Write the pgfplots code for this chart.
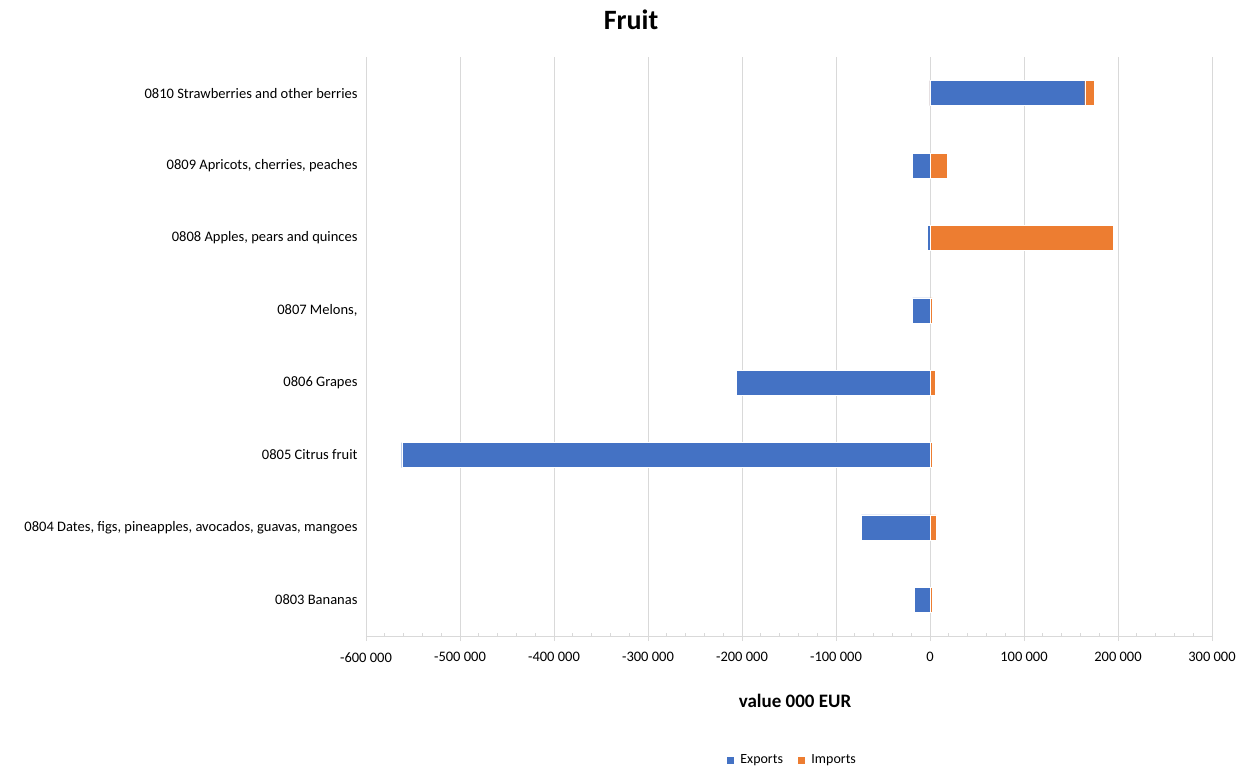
\documentclass[border=0pt]{standalone}
\usepackage{fontspec}
\setmainfont{Carlito}
\usepackage{pgfplots}
\pgfplotsset{compat=1.18}
\definecolor{expc}{HTML}{4472C4}
\definecolor{impc}{HTML}{ED7D31}
\definecolor{gridc}{HTML}{D9D9D9}
\begin{document}
\begin{tikzpicture}
\useasboundingbox (-366bp,-134bp) rectangle (881bp,636bp);
\begin{axis}[
  at={(0,0)}, anchor=south west,
  scale only axis, width=846bp, height=579bp,
  xmin=-600000, xmax=300000, ymin=-0.5, ymax=7.5,
  xbar, bar width=25bp, bar shift=0pt,
  scaled x ticks=false,
  xtick={-600000,-500000,...,300000},
  xticklabels={-600 000,-500 000,-400 000,-300 000,-200 000,-100 000,0,100 000,200 000,300 000},
  ytick={0,...,7},
  yticklabels={0803 Bananas,{0804 Dates, figs, pineapples, avocados, guavas, mangoes},0805 Citrus fruit,0806 Grapes,{0807 Melons,},0808 Apples{,} pears and quinces,{0809 Apricots, cherries, peaches},0810 Strawberries and other berries},
  xmajorgrids, major grid style={gridc, line width=0.8bp},
  axis x line*=bottom, axis y line*=left,
  y axis line style={draw=none},
  x axis line style={gridc, line width=0.8bp},
  ytick style={draw=none},
  xtick style={gridc, line width=0.8bp},
  tick align=outside, major tick length=5bp,
  minor x tick num=4, minor tick length=3bp,
  minor x tick style={gridc, line width=0.8bp, yshift=3bp},
  xticklabel style={font=\fontsize{14.5bp}{17bp}\selectfont, yshift=-8bp},
  yticklabel style={font=\fontsize{14.5bp}{17bp}\selectfont, xshift=0bp},
  reverse legend,
  legend columns=2,
  legend style={at={(axis description cs:0.5035,-0.214)}, anchor=center, draw=none,
    font=\fontsize{14bp}{17bp}\selectfont,
    /tikz/every odd column/.append style={column sep=4bp},
    /tikz/every even column/.append style={column sep=12bp}},
  legend image code/.code={\fill[#1] (0bp,-4bp) rectangle (8bp,4bp);},
]
\addplot[fill=impc, draw=white, line width=0.4bp] coordinates {(2500,0) (6800,1) (2500,2) (5300,3) (2500,4) (194700,5) (18500,6) (175200,7)};
\addlegendentry{Imports}
\addplot[fill=expc, draw=white, line width=0.4bp] coordinates {(-17000,0) (-73000,1) (-562000,2) (-206000,3) (-18400,4) (-2500,5) (-18400,6) (164600,7)};
\addlegendentry{Exports}
\end{axis}
\node[font=\bfseries\fontsize{28bp}{32bp}\selectfont] at (265bp,616bp) {Fruit};
\node[font=\bfseries\fontsize{19bp}{22bp}\selectfont] at (429bp,-65bp) {value 000 EUR};
\end{tikzpicture}
\end{document}
